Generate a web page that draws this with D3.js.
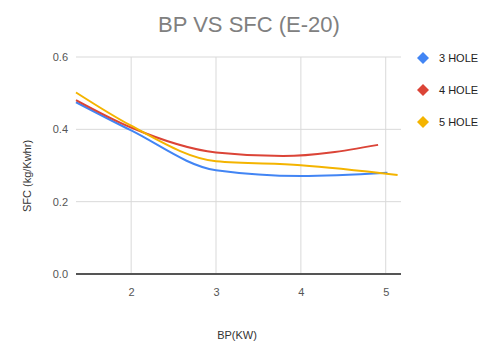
<!DOCTYPE html>
<html>
<head>
<meta charset="utf-8">
<script src="https://cdn.jsdelivr.net/npm/d3@7"></script>
<style>
  body { margin: 0; background: #fff; }
  text { font-family: "Liberation Sans", Arial, sans-serif; }
</style>
</head>
<body>
<div id="chart"></div>
<script>
// values
var seriesNames = ["3 HOLE", "4 HOLE", "5 HOLE"];
var seriesColors = ["#4285f4", "#db4437", "#f4b400"];
var bp3 = [1.35, 2.0, 3.0, 4.0, 5.02];
var sfc3 = [0.475, 0.397, 0.287, 0.271, 0.28];
var bp4 = [1.35, 2.0, 3.0, 3.79, 4.91];
var sfc4 = [0.481, 0.405, 0.336, 0.326, 0.357];
var bp5 = [1.35, 2.0, 3.0, 4.0, 5.14];
var sfc5 = [0.502, 0.41, 0.312, 0.301, 0.274];
var xTicks = [2, 3, 4, 5];
var yTicks = [0, 0.2, 0.4, 0.6];

var W = 488, H = 344;
var svg = d3.select("#chart").append("svg")
    .attr("width", W).attr("height", H);

// plot area
var x = d3.scaleLinear().domain([1.35, 5.18]).range([76, 401]);
var y = d3.scaleLinear().domain([0, 0.6]).range([274, 57]);

// title
svg.append("text")
    .attr("x", 249).attr("y", 32)
    .attr("text-anchor", "middle")
    .attr("font-size", 22)
    .attr("fill", "#808080")
    .text("BP VS SFC (E-20)");

// grid
svg.append("g").selectAll("line")
    .data(yTicks.filter(function(d) { return d > 0; }))
    .enter().append("line")
    .attr("x1", x.range()[0]).attr("x2", x.range()[1])
    .attr("y1", function(d) { return y(d); })
    .attr("y2", function(d) { return y(d); })
    .attr("stroke", "#d9d9d9").attr("stroke-width", 1);

svg.append("g").selectAll("line")
    .data(xTicks)
    .enter().append("line")
    .attr("x1", function(d) { return x(d); })
    .attr("x2", function(d) { return x(d); })
    .attr("y1", y(0.6)).attr("y2", y(0))
    .attr("stroke", "#d9d9d9").attr("stroke-width", 1);

// axis labels (Google-style, no tick marks)
var yAxis = d3.axisLeft(y).tickValues(yTicks).tickFormat(d3.format(".1f")).tickSize(0).tickPadding(8);
var gy = svg.append("g").attr("transform", "translate(" + x.range()[0] + ",0)").call(yAxis);
gy.select(".domain").remove();
gy.selectAll("text").attr("font-size", 11).attr("fill", "#555")
    .style("font-family", "'Liberation Sans', Arial, sans-serif");

var xAxis = d3.axisBottom(x).tickValues(xTicks).tickFormat(d3.format("d")).tickSize(0).tickPadding(14);
var gx = svg.append("g").attr("transform", "translate(0," + y(0) + ")").call(xAxis);
gx.select(".domain").remove();
gx.selectAll("text").attr("font-size", 11).attr("fill", "#555")
    .style("font-family", "'Liberation Sans', Arial, sans-serif");

// baseline
svg.append("line")
    .attr("x1", x.range()[0]).attr("x2", x.range()[1])
    .attr("y1", y(0)).attr("y2", y(0))
    .attr("stroke", "#555").attr("stroke-width", 2);

// axis titles
svg.append("text")
    .attr("x", 237).attr("y", 339)
    .attr("text-anchor", "middle")
    .attr("font-size", 11).attr("fill", "#333")
    .text("BP(KW)");

svg.append("text")
    .attr("transform", "translate(31,176) rotate(-90)")
    .attr("text-anchor", "middle")
    .attr("font-size", 11).attr("fill", "#333")
    .text("SFC (kg/Kwhr)");

// lines
var allX = [bp3, bp4, bp5], allY = [sfc3, sfc4, sfc5];
var line = d3.line()
    .x(function(d) { return x(d[0]); })
    .y(function(d) { return y(d[1]); })
    .curve(d3.curveMonotoneX);

allX.forEach(function(xs, i) {
    var pts = xs.map(function(v, j) { return [v, allY[i][j]]; });
    svg.append("path")
        .datum(pts)
        .attr("d", line)
        .attr("fill", "none")
        .attr("stroke", seriesColors[i])
        .attr("stroke-width", 2);
});

// legend
var legend = svg.append("g").selectAll("g")
    .data(seriesNames)
    .enter().append("g")
    .attr("transform", function(d, i) { return "translate(423," + (58 + i * 32) + ")"; });

legend.append("path")
    .attr("d", "M0,-6L6,0L0,6L-6,0Z")
    .attr("fill", function(d, i) { return seriesColors[i]; });

legend.append("text")
    .attr("x", 16).attr("y", 4)
    .attr("font-size", 11).attr("fill", "#222")
    .text(function(d) { return d; });
</script>
</body>
</html>
